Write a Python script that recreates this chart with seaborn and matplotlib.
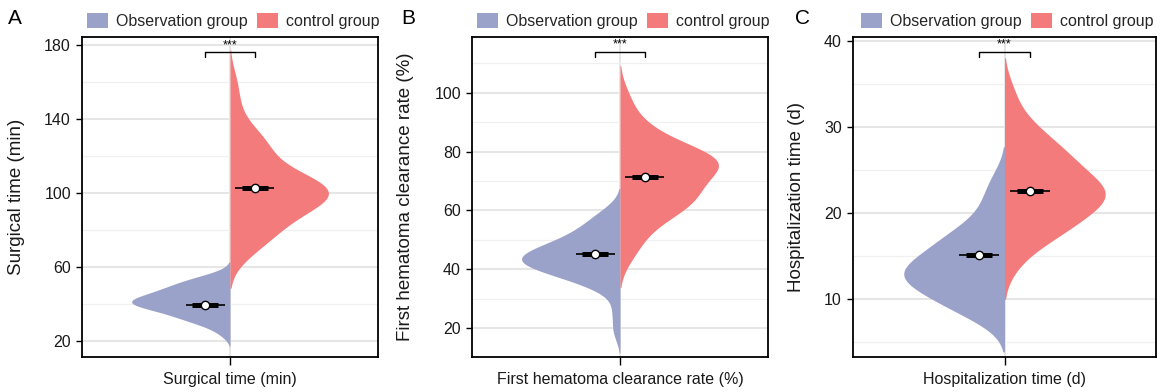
import numpy as np
import pandas as pd
import matplotlib
matplotlib.use("Agg")
import matplotlib.pyplot as plt
from matplotlib.patches import Patch
import seaborn as sns

# ---------------- data ----------------
groups = ["Observation group", "control group"]
colors = ["#9AA2C9", "#F47B7B"]
panel_letters = ["A", "B", "C"]
variables = ["Surgical time (min)", "First hematoma clearance rate (%)", "Hospitalization time (d)"]

surgical_obs = [24, 28, 30, 31, 32, 33, 34, 35, 36, 37, 37, 38, 39, 39, 40, 40, 41, 41, 41, 42, 42,
                43, 43, 44, 45, 45, 46, 47, 47.5, 48, 49, 50, 51, 52, 53, 54, 56]
surgical_ctrl = [66, 70, 73, 76, 78, 80, 82, 84, 86, 88, 90, 91, 92, 94, 95, 96, 97, 98, 99, 100, 100,
                 101, 102, 102, 103, 104, 105, 106, 107, 108, 110, 112, 114, 117, 120, 123, 126, 128,
                 129, 132, 138, 148, 160]
clearance_obs = [19, 26, 33, 35, 36, 37, 38, 39, 40, 40, 41, 41, 42, 42, 43, 43, 43, 44, 44, 45, 45,
                 46, 46, 47, 48, 48, 49, 50, 51, 52, 53, 55, 56, 58, 60]
clearance_ctrl = [44, 48, 51, 54, 56, 58, 59, 60, 61, 62, 63, 64, 65, 65, 66, 67, 68, 69, 70, 71, 72,
                  73, 74, 75, 75, 76, 76, 77, 77, 77, 78, 78, 79, 80, 81, 82, 84, 85, 87, 89, 93, 99]
hosp_obs = [7.5, 8.5, 9, 9.5, 10, 10.5, 11, 11.5, 12, 12, 12.5, 12.5, 13, 13, 13.5, 14, 14, 14.5, 15,
            15.5, 16, 16.5, 17, 17.5, 18, 19, 20.5, 22, 24]
hosp_ctrl = [14, 16, 17, 17.5, 18, 18.5, 19, 19.5, 20, 20.5, 21, 21, 21.5, 22, 22, 22.5, 22.5, 23, 23,
             23.5, 24, 24.5, 25, 25.5, 26, 26.5, 27, 27.5, 28, 29, 30, 31, 34]

mean_obs = [39.5, 45.1, 15.1]
mean_ctrl = [102.7, 71.4, 22.5]
sig_labels = ["***", "***", "***"]

major_ticks = [[20, 60, 100, 140, 180], [20, 40, 60, 80, 100], [10, 20, 30, 40]]
minor_ticks = [[40, 80, 120, 160], [30, 50, 70, 90, 110], [5, 15, 25, 35]]

# ---------------- style / layout ----------------
sns.set_theme(style="white")
plt.rcParams["font.family"] = ["Liberation Sans", "DejaVu Sans"]

W, H = 1161, 392
fig = plt.figure(figsize=(W / 100, H / 100), dpi=100)

ax_px = [(82, 378), (472, 768), (853, 1156)]
top_px, bot_px = 37, 357
ylims = [(11.4, 184.3), (10.1, 119.0), (3.2, 40.5)]
bracket_y = [(176.0, 173.5), (114.0, 112.2), (38.8, 38.2)]
ylabel_x = [-0.193, -0.196, -0.158]
letter_x = [15, 408, 803]
bw_adj = [0.9, 0.9, 0.9]
data_sets = [(surgical_obs, surgical_ctrl), (clearance_obs, clearance_ctrl), (hosp_obs, hosp_ctrl)]

for i in range(3):
    l, r = ax_px[i]
    ax = fig.add_axes([l / W, (H - bot_px) / H, (r - l) / W, (bot_px - top_px) / H])
    obs, ctrl = data_sets[i]
    df = pd.DataFrame({
        "variable": [variables[i]] * (len(obs) + len(ctrl)),
        "group": [groups[0]] * len(obs) + [groups[1]] * len(ctrl),
        "value": list(obs) + list(ctrl),
    })
    ax.set_axisbelow(True)
    sns.violinplot(data=df, x="variable", y="value", hue="group", hue_order=groups,
                   split=True, inner=None, density_norm="width", width=0.665,
                   palette=colors, saturation=1, linewidth=0, cut=2, bw_adjust=bw_adj[i],
                   legend=False, ax=ax)
    ax.set_xlim(-0.5, 0.5)
    ax.set_ylim(*ylims[i])
    ax.set_yticks(major_ticks[i])
    ax.set_yticks(minor_ticks[i], minor=True)
    ax.grid(which="major", axis="y", color="#E6E6E6", lw=1.4)
    ax.grid(which="minor", axis="y", color="#F0F0F0", lw=0.9)
    ax.grid(which="major", axis="x", color="#E6E6E6", lw=1.4)
    ax.tick_params(axis="y", which="minor", length=0)
    ax.tick_params(axis="y", which="major", left=True, length=4, width=1, color="black",
                   labelsize=11.5, labelcolor="#1a1a1a", pad=4)
    ax.tick_params(axis="x", bottom=True, length=6, width=1, color="black",
                   labelsize=11.5, labelcolor="#1a1a1a", pad=5)
    for s in ax.spines.values():
        s.set_color("black")
        s.set_linewidth(1.3)
    ax.set_xlabel("")
    ax.set_ylabel(variables[i], fontsize=13.5, color="#1a1a1a")
    ax.yaxis.set_label_coords(ylabel_x[i], 0.5)

    # mean markers
    for xo, m in [(-0.084, mean_obs[i]), (0.084, mean_ctrl[i])]:
        ax.plot([xo - 0.066, xo + 0.066], [m, m], color="black", lw=1.2, zorder=5,
                solid_capstyle="butt")
        ax.plot([xo - 0.044, xo + 0.044], [m, m], color="black", lw=3.6, zorder=5,
                solid_capstyle="butt")
        ax.plot([xo], [m], marker="o", ms=6, mfc="white", mec="black", mew=1.0, zorder=6)

    # significance bracket
    yb, yt = bracket_y[i]
    ax.plot([-0.084, -0.084, 0.084, 0.084], [yt, yb, yb, yt], color="black", lw=1.0, zorder=6)
    ax.annotate(sig_labels[i], xy=(0, yb), xytext=(0, 1), textcoords="offset points",
                ha="center", va="bottom", fontsize=9, color="black")

    handles = [Patch(facecolor=c, edgecolor="none", label=g) for c, g in zip(colors, groups)]
    ax.legend(handles=handles, loc="center", bbox_to_anchor=(0.51, 1.0 + 16 / 320), ncol=2,
              frameon=False, fontsize=11.5, handlelength=1.3, handleheight=1.1,
              handletextpad=0.5, columnspacing=0.6, borderpad=0, borderaxespad=0)

    fig.text(letter_x[i] / W, 1 - 18 / H, panel_letters[i], fontsize=15, ha="center",
             va="center", color="black")

fig.savefig("out.png", dpi=100)
